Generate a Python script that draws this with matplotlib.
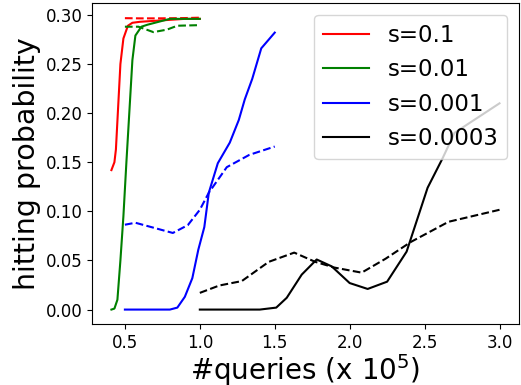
import matplotlib
matplotlib.use("Agg")
import matplotlib.pyplot as plt

# s=0.1
x_r = [0.41, 0.43, 0.44, 0.47, 0.49, 0.52, 0.55, 0.6, 0.7, 0.8, 0.9, 1.0]
y_r = [0.142, 0.150, 0.163, 0.250, 0.276, 0.289, 0.292, 0.293, 0.294, 0.295, 0.296, 0.296]
x_r2 = [0.5, 0.6, 0.7, 0.8, 0.9, 1.0]
y_r2 = [0.2967, 0.2965, 0.2965, 0.2966, 0.2968, 0.2972]

# s=0.01
x_g = [0.41, 0.43, 0.45, 0.47, 0.49, 0.51, 0.55, 0.57, 0.61, 0.65, 0.7, 0.8, 0.9, 1.0]
y_g = [0.0, 0.001, 0.010, 0.050, 0.095, 0.150, 0.254, 0.279, 0.288, 0.290, 0.292, 0.296, 0.296, 0.296]
x_g2 = [0.5, 0.59, 0.69, 0.78, 0.85, 1.0]
y_g2 = [0.288, 0.288, 0.2825, 0.285, 0.289, 0.2896]

# s=0.001
x_b = [0.5, 0.6, 0.7, 0.8, 0.85, 0.9, 0.95, 0.99, 1.03, 1.06, 1.12, 1.2, 1.26, 1.3, 1.35, 1.41, 1.5]
y_b = [0.0, 0.0, 0.0, 0.0, 0.002, 0.013, 0.032, 0.061, 0.084, 0.119, 0.149, 0.170, 0.193, 0.214, 0.235, 0.266, 0.282]
x_b2 = [0.5, 0.57, 0.82, 0.92, 1.0, 1.06, 1.18, 1.33, 1.5]
y_b2 = [0.0864, 0.0884, 0.078, 0.086, 0.1016, 0.119, 0.145, 0.1575, 0.166]

# s=0.0003
x_k = [1.0, 1.2, 1.4, 1.51, 1.58, 1.68, 1.78, 1.88, 2.0, 2.12, 2.25, 2.38, 2.52, 2.62, 2.7, 3.0]
y_k = [0.0, 0.0, 0.0, 0.002, 0.012, 0.0356, 0.051, 0.044, 0.027, 0.021, 0.0284, 0.059, 0.124, 0.154, 0.18, 0.21]
x_k2 = [1.0, 1.13, 1.28, 1.46, 1.63, 1.77, 1.9, 2.08, 2.24, 2.41, 2.66, 3.0]
y_k2 = [0.017, 0.0245, 0.029, 0.0486, 0.058, 0.0486, 0.0427, 0.0376, 0.0518, 0.069, 0.0894, 0.1016]

fig = plt.figure(figsize=(5.21, 3.85), dpi=100)
ax = fig.add_axes([0.1766, 0.158, 0.8194, 0.834])

ax.plot(x_r, y_r, color='red', label='s=0.1')
ax.plot(x_r2, y_r2, color='red', linestyle='--')
ax.plot(x_g, y_g, color='green', label='s=0.01')
ax.plot(x_g2, y_g2, color='green', linestyle='--')
ax.plot(x_b, y_b, color='blue', label='s=0.001')
ax.plot(x_b2, y_b2, color='blue', linestyle='--')
ax.plot(x_k, y_k, color='black', label='s=0.0003')
ax.plot(x_k2, y_k2, color='black', linestyle='--')

ax.set_xlabel('#queries (x 10$^5$)', fontsize=20, labelpad=0)
ax.set_ylabel('hitting probability', fontsize=20.5, labelpad=3)
ax.tick_params(labelsize=12)
ax.legend(loc='upper right', fontsize=16.5)

fig.savefig('out.png', dpi=100)
